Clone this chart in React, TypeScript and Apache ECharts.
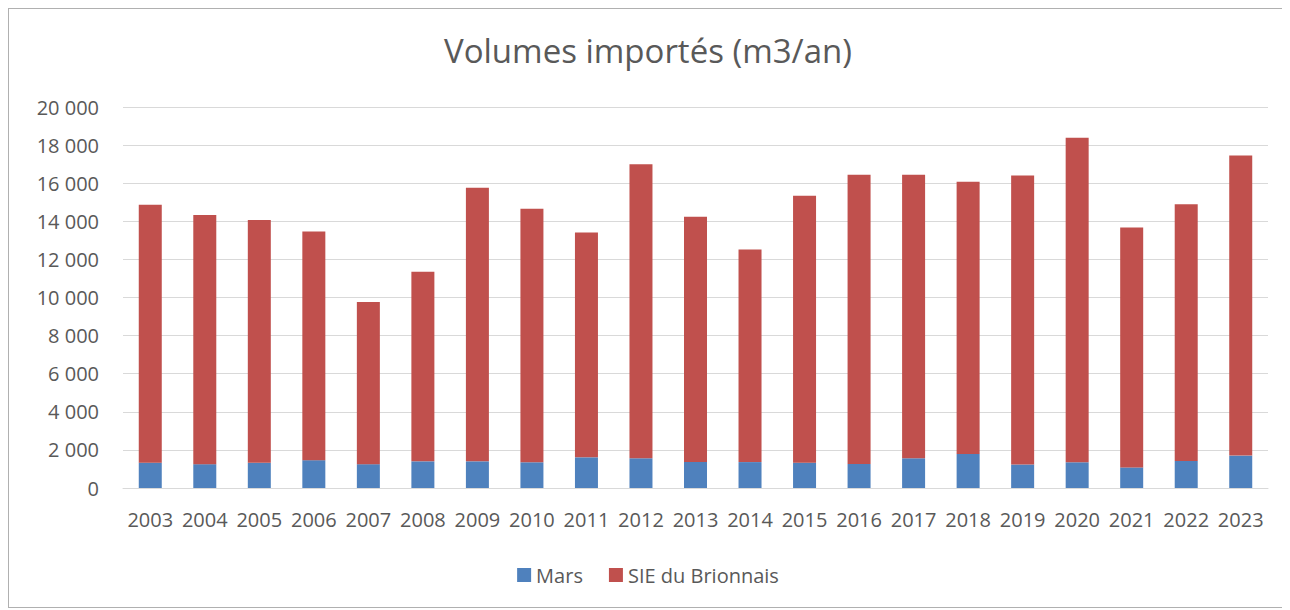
import React, { useEffect, useRef } from "react";
import * as echarts from "echarts";

const years = ["2003","2004","2005","2006","2007","2008","2009","2010","2011","2012","2013","2014","2015","2016","2017","2018","2019","2020","2021","2022","2023"];
const totals = [14870,14330,14070,13460,9760,11350,15760,14660,13410,16990,14240,12520,15340,16450,16450,16070,16400,18380,13670,14890,17460];
const mars = [1330,1250,1330,1460,1250,1400,1400,1350,1610,1560,1370,1360,1330,1260,1560,1790,1240,1350,1080,1420,1700];
const sie = totals.map((t, i) => t - mars[i]);

const FONT = "'Open Sans', sans-serif";
const TXT = "#595959";

export default function App() {
  const ref = useRef<HTMLDivElement>(null);
  useEffect(() => {
    if (!ref.current) return;
    const chart = echarts.init(ref.current, null, { renderer: "svg" });
    chart.setOption({
      animation: false,
      backgroundColor: "#ffffff",
      title: {
        text: "Volumes importés (m3/an)",
        left: "center",
        top: 20,
        textStyle: { fontFamily: FONT, fontSize: 33, fontWeight: "normal", color: TXT },
      },
      legend: {
        bottom: 17,
        left: "center",
        itemWidth: 14,
        itemHeight: 14,
        itemGap: 26,
        icon: "rect",
        textStyle: { fontFamily: FONT, fontSize: 20, color: TXT },
        data: ["Mars", "SIE du Brionnais"],
      },
      grid: { left: 114, right: 19, top: 98, bottom: 119 },
      xAxis: {
        type: "category",
        data: years,
        axisLine: { lineStyle: { color: "#d9d9d9", width: 1 } },
        axisTick: { show: false },
        axisLabel: { fontFamily: FONT, fontSize: 20, color: TXT, margin: 21, interval: 0 },
      },
      yAxis: {
        type: "value",
        min: 0,
        max: 20000,
        interval: 2000,
        axisLine: { show: false },
        axisTick: { show: false },
        splitLine: { lineStyle: { color: "#d9d9d9", width: 1 } },
        axisLabel: {
          fontFamily: FONT,
          fontSize: 20,
          color: TXT,
          margin: 24,
          formatter: (v: number) => v.toString().replace(/\B(?=(\d{3})+(?!\d))/g, " "),
        },
      },
      series: [
        {
          name: "Mars",
          type: "bar",
          stack: "t",
          data: mars,
          barWidth: 23,
          itemStyle: { color: "#4F81BD" },
        },
        {
          name: "SIE du Brionnais",
          type: "bar",
          stack: "t",
          data: sie,
          barWidth: 23,
          itemStyle: { color: "#C0504D" },
        },
      ],
    });
    return () => chart.dispose();
  }, []);
  return (
    <div
      ref={ref}
      style={{ width: 1280, height: 600, border: "1px solid #b0b0b0", boxSizing: "border-box" }}
    />
  );
}
